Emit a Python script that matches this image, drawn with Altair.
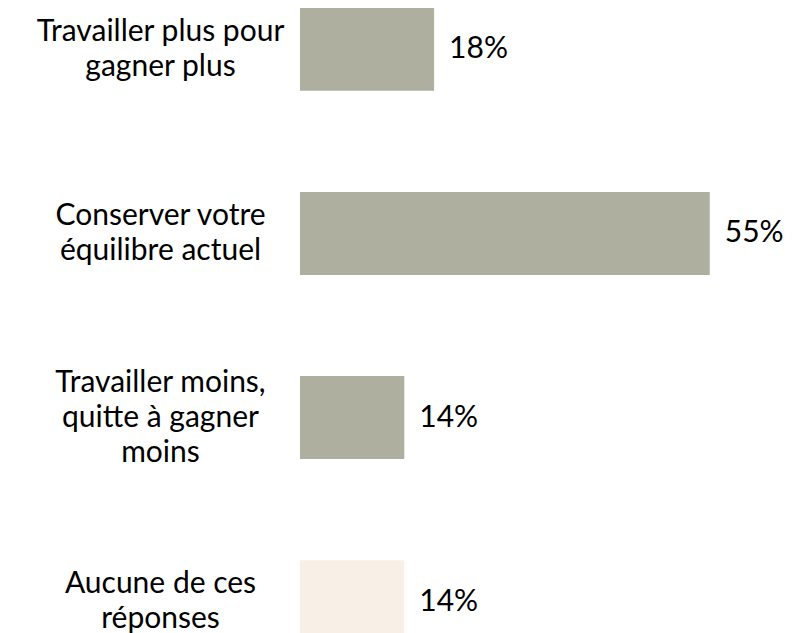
import altair as alt
import pandas as pd

categories = [
    "Travailler plus pour|gagner plus",
    "Conserver votre|équilibre actuel",
    "Travailler moins,|quitte à gagner|moins",
    "Aucune de ces|réponses",
]
values = [0.18, 0.55, 0.14, 0.14]
groups = ["choix", "choix", "choix", "aucune"]
group_names = ["choix", "aucune"]
group_colors = ["#AEAF9F", "#F8F0E7"]

df = pd.DataFrame({"cat": categories, "val": values, "grp": groups})

FONT = "Lato"
FS = 30
LH = 35

y_enc = alt.Y(
    "cat:N",
    sort=categories,
    scale=alt.Scale(paddingInner=0.55, paddingOuter=0),
    axis=alt.Axis(
        title=None,
        domain=False,
        ticks=False,
        grid=False,
        labelExpr="split(datum.label, '|')",
        labelAlign="center",
        labelPadding=140,
        labelOffset={
            "condition": {"test": "length(split(datum.value, '|')) == 3", "value": -LH},
            "value": -LH / 2,
        },
        labelFont=FONT,
        labelFontSize=FS,
        labelColor="#000000",
        labelLineHeight=LH,
        labelLimit=400,
        minExtent=292,
        maxExtent=292,
    ),
)

x_enc = alt.X("val:Q", scale=alt.Scale(domain=[0, 0.6]), axis=None)

bars = alt.Chart(df).mark_bar().encode(
    x=x_enc,
    y=y_enc,
    color=alt.Color("grp:N", scale=alt.Scale(domain=group_names, range=group_colors), legend=None),
)

texts = alt.Chart(df).mark_text(
    align="left", baseline="middle", dx=15, font=FONT, fontSize=FS, color="#000000"
).encode(
    x=x_enc,
    y=y_enc,
    text=alt.Text("val:Q", format=".0%"),
)

chart = (
    alt.layer(bars, texts)
    .properties(
        width=447,
        height=635,
        padding={"left": 0, "top": 0, "right": 0, "bottom": 0},
        background="#FFFFFF",
    )
    .configure_view(strokeWidth=0)
    .configure_axis(grid=False)
)

chart.save("out.html", embed_options={"renderer": "svg", "actions": False})
